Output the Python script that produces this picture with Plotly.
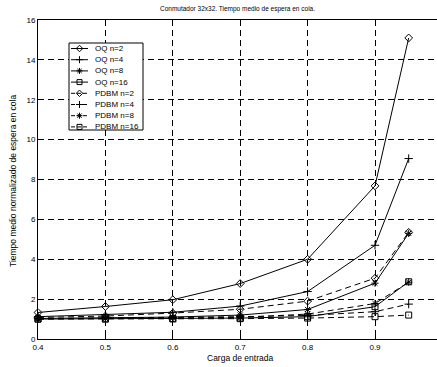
import plotly.graph_objects as go

carga = [0.4, 0.5, 0.6, 0.7, 0.8, 0.9, 0.95]

oq_n2 = [1.33, 1.63, 1.97, 2.78, 4.0, 7.68, 15.1]
oq_n4 = [1.12, 1.22, 1.34, 1.65, 2.38, 4.7, 9.05]
oq_n8 = [1.03, 1.06, 1.1, 1.2, 1.48, 2.8, 5.3]
oq_n16 = [1.0, 1.01, 1.02, 1.05, 1.12, 1.62, 2.87]
pdbm_n2 = [1.08, 1.15, 1.3, 1.49, 1.9, 3.05, 5.35]
pdbm_n4 = [1.02, 1.05, 1.08, 1.12, 1.18, 1.37, 1.75]
pdbm_n8 = [1.01, 1.03, 1.05, 1.08, 1.25, 1.78, 2.85]
pdbm_n16 = [1.0, 1.0, 1.01, 1.02, 1.05, 1.12, 1.2]

series_names = ["OQ n=2", "OQ n=4", "OQ n=8", "OQ n=16",
                "PDBM n=2", "PDBM n=4", "PDBM n=8", "PDBM n=16"]
series_values = [oq_n2, oq_n4, oq_n8, oq_n16, pdbm_n2, pdbm_n4, pdbm_n8, pdbm_n16]
symbols = ["diamond-open", "cross-thin-open", "asterisk-open", "square-open"] * 2
dashes = ["solid"] * 4 + ["6px,4px"] * 4

y_ticks = [0, 2, 4, 6, 8, 10, 12, 14, 16]
x_ticks = [0.4, 0.5, 0.6, 0.7, 0.8, 0.9, 1.0]
x_tick_labels = ["0.4", "0.5", "0.6", "0.7", "0.8", "0.9", "1"]

W, H = 437, 367
L, R, T, B = 38, 0, 20, 28
FONT = "Liberation Sans, Arial, Helvetica, sans-serif"

fig = go.Figure()
for name, vals, sym, dash in zip(series_names, series_values, symbols, dashes):
    fig.add_trace(go.Scatter(
        x=carga, y=vals, name=name, mode="lines+markers",
        line=dict(color="black", width=1, dash=dash),
        marker=dict(symbol=sym, size=6, color="black",
                    line=dict(color="black", width=1)),
        showlegend=False, cliponaxis=False,
    ))

# manual MATLAB-style legend drawn on an overlay axis spanning the plot area
pw, ph = W - L - R, H - T - B
def px2x(px):
    return (px - L) / pw
def py2y(py):
    return (H - B - py) / ph

bx0, bx1, by0, by1 = px2x(69), px2x(143), py2y(130), py2y(43)
fig.add_trace(go.Scatter(
    x=[bx0, bx1, bx1, bx0, bx0], y=[by0, by0, by1, by1, by0],
    xaxis="x2", yaxis="y2", mode="lines", fill="toself", fillcolor="white",
    line=dict(color="black", width=1), showlegend=False, hoverinfo="skip"))
for i, (name, sym, dash) in enumerate(zip(series_names, symbols, dashes)):
    yy = py2y(48.5 + i * 11.2)
    fig.add_trace(go.Scatter(
        x=[px2x(71), px2x(88)], y=[yy, yy], xaxis="x2", yaxis="y2", mode="lines",
        line=dict(color="black", width=1,
                  dash="solid" if dash == "solid" else "4px,2px"),
        showlegend=False, hoverinfo="skip"))
    fig.add_trace(go.Scatter(
        x=[px2x(79.5)], y=[yy], xaxis="x2", yaxis="y2", mode="markers",
        marker=dict(symbol=sym, size=5, color="black",
                    line=dict(color="black", width=1)),
        showlegend=False, hoverinfo="skip"))
    fig.add_annotation(x=px2x(93), y=yy, xref="paper", yref="paper",
                       text=name, showarrow=False, xanchor="left",
                       yanchor="middle", font=dict(size=8, color="black", family=FONT))

fig.add_annotation(x=0.5, y=py2y(9), xref="paper", yref="paper",
                   text="Conmutador 32x32. Tiempo medio de espera en cola.",
                   showarrow=False, xanchor="center", yanchor="middle",
                   font=dict(size=6.5, color="black", family=FONT))
fig.add_annotation(x=px2x(240), y=py2y(358), xref="paper", yref="paper",
                   text="Carga de entrada",
                   showarrow=False, xanchor="center", yanchor="middle",
                   font=dict(size=8.5, color="black", family=FONT))
fig.add_annotation(x=px2x(13), y=py2y(181), xref="paper", yref="paper",
                   text="Tiempo medio normalizado de espera en cola",
                   showarrow=False, xanchor="center", yanchor="middle", textangle=-90,
                   font=dict(size=8.5, color="black", family=FONT))

grid_dash = "6px,4px"
fig.update_layout(
    width=W, height=H,
    margin=dict(l=L, r=R, t=T, b=B, pad=0, autoexpand=False),
    paper_bgcolor="white", plot_bgcolor="white",
    font=dict(family=FONT, size=8, color="black"),
    xaxis=dict(range=[0.4, 0.4 + 0.1 * pw / 67.4], tickvals=x_ticks,
               ticktext=x_tick_labels, automargin=False,
               showline=True, linecolor="black", linewidth=1, mirror="ticks",
               ticks="inside", ticklen=4, tickcolor="black",
               showgrid=True, gridcolor="black", gridwidth=1, griddash=grid_dash,
               zeroline=False),
    yaxis=dict(range=[0, 16], tickvals=y_ticks, automargin=False,
               showline=True, linecolor="black", linewidth=1,
               ticks="inside", ticklen=4, tickcolor="black",
               showgrid=True, gridcolor="black", gridwidth=1, griddash=grid_dash,
               zeroline=False),
    xaxis2=dict(range=[0, 1], overlaying="x", visible=False, fixedrange=True),
    yaxis2=dict(range=[0, 1], overlaying="y", visible=False, fixedrange=True),
)

fig.write_html("out.html",
               config={"displayModeBar": False},
               post_script="document.body.style.margin='0';"
                           "document.body.style.padding='0';"
                           "document.body.style.overflow='hidden';")
